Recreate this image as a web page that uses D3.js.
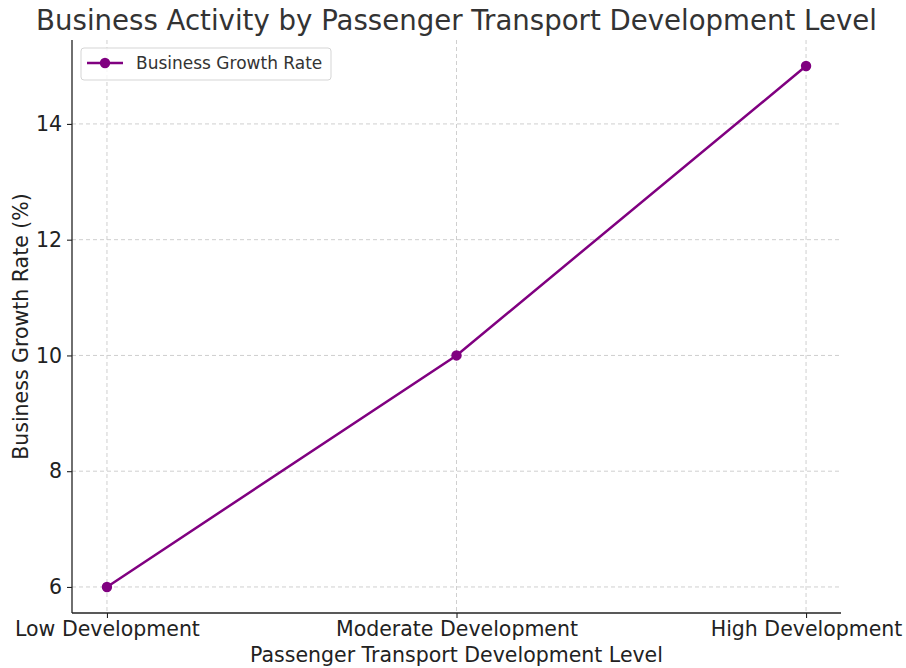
<!DOCTYPE html>
<html>
<head>
<meta charset="utf-8">
<script src="https://cdn.jsdelivr.net/npm/d3@7"></script>
<style>
  body { margin: 0; background: #fff; }
  svg { display: block; font-family: "DejaVu Sans", sans-serif; }
</style>
</head>
<body>
<svg id="chart" width="906" height="668"></svg>
<script>
// Development levels and the business growth rate measured at each
const categories = ["Low Development", "Moderate Development", "High Development"];
const growthRate = [6, 10, 15];
const yTicks = [6, 8, 10, 12, 14];

const seriesName = "Business Growth Rate";
const title = "Business Activity by Passenger Transport Development Level";
const xLabel = "Passenger Transport Development Level";
const yLabel = "Business Growth Rate (%)";

const W = 906, H = 668;
const margin = { left: 72, right: 65, top: 40, bottom: 55 };
const plotW = W - margin.left - margin.right;
const plotH = H - margin.top - margin.bottom;

const svg = d3.select("#chart");
const g = svg.append("g").attr("transform", `translate(${margin.left},${margin.top})`);

// index-based x with 10% padding, y with 5% padding like matplotlib defaults
const x = d3.scaleLinear().domain([-0.1, categories.length - 1 + 0.1]).range([0, plotW]);
const yMin = d3.min(growthRate), yMax = d3.max(growthRate), pad = (yMax - yMin) * 0.05;
const y = d3.scaleLinear().domain([yMin - pad, yMax + pad]).range([plotH, 0]);

// grid
g.append("g").selectAll("line").data(yTicks).join("line")
  .attr("x1", 0).attr("x2", plotW)
  .attr("y1", d => y(d)).attr("y2", d => y(d))
  .attr("stroke", "#cfcfcf").attr("stroke-width", 1).attr("stroke-dasharray", "4,3");
g.append("g").selectAll("line").data(categories.map((c, i) => i)).join("line")
  .attr("x1", d => x(d)).attr("x2", d => x(d))
  .attr("y1", 0).attr("y2", plotH)
  .attr("stroke", "#cfcfcf").attr("stroke-width", 1).attr("stroke-dasharray", "4,3");

// axes
const xAxis = d3.axisBottom(x).tickValues(categories.map((c, i) => i))
  .tickFormat(i => categories[i]).tickSize(5).tickPadding(3);
const yAxis = d3.axisLeft(y).tickValues(yTicks).tickSize(5).tickPadding(5);

const gx = g.append("g").attr("transform", `translate(0,${plotH})`).call(xAxis);
const gy = g.append("g").call(yAxis);
[gx, gy].forEach(a => {
  a.select(".domain").attr("stroke", "#222").attr("stroke-width", 1.3);
  a.selectAll(".tick line").attr("stroke", "#222").attr("stroke-width", 1.1);
  a.selectAll(".tick text").attr("fill", "#222").style("font-size", "20.5px")
    .style("font-family", "DejaVu Sans, sans-serif");
});
gx.select(".domain").attr("d", `M0,0H${plotW}`);
gy.select(".domain").attr("d", `M0,${plotH}V0`);

// series line and markers
const line = d3.line().x((d, i) => x(i)).y(d => y(d));
g.append("path").datum(growthRate)
  .attr("fill", "none").attr("stroke", "#800080").attr("stroke-width", 2.5)
  .attr("d", line);
g.append("g").selectAll("circle").data(growthRate).join("circle")
  .attr("cx", (d, i) => x(i)).attr("cy", d => y(d)).attr("r", 5.2)
  .attr("fill", "#800080");

// title and axis labels
svg.append("text").attr("x", margin.left + plotW / 2).attr("y", 30)
  .attr("text-anchor", "middle").attr("fill", "#333")
  .style("font-size", "27.6px").text(title);
svg.append("text").attr("x", margin.left + plotW / 2).attr("y", 662)
  .attr("text-anchor", "middle").attr("fill", "#222")
  .style("font-size", "20.5px").text(xLabel);
svg.append("text")
  .attr("transform", `translate(28,${margin.top + plotH / 2}) rotate(-90)`)
  .attr("text-anchor", "middle").attr("fill", "#222")
  .style("font-size", "20.5px").text(yLabel);

// legend
const lg = g.append("g").attr("transform", "translate(9,8)");
lg.append("rect").attr("width", 250).attr("height", 32).attr("rx", 3)
  .attr("fill", "#fff").attr("fill-opacity", 0.8)
  .attr("stroke", "#d5d5d5").attr("stroke-width", 1);
lg.append("line").attr("x1", 6).attr("x2", 42).attr("y1", 15).attr("y2", 15)
  .attr("stroke", "#800080").attr("stroke-width", 2.5);
lg.append("circle").attr("cx", 24).attr("cy", 15).attr("r", 5.2).attr("fill", "#800080");
lg.append("text").attr("x", 55).attr("y", 21).attr("fill", "#333")
  .style("font-size", "17px").text(seriesName);
</script>
</body>
</html>
